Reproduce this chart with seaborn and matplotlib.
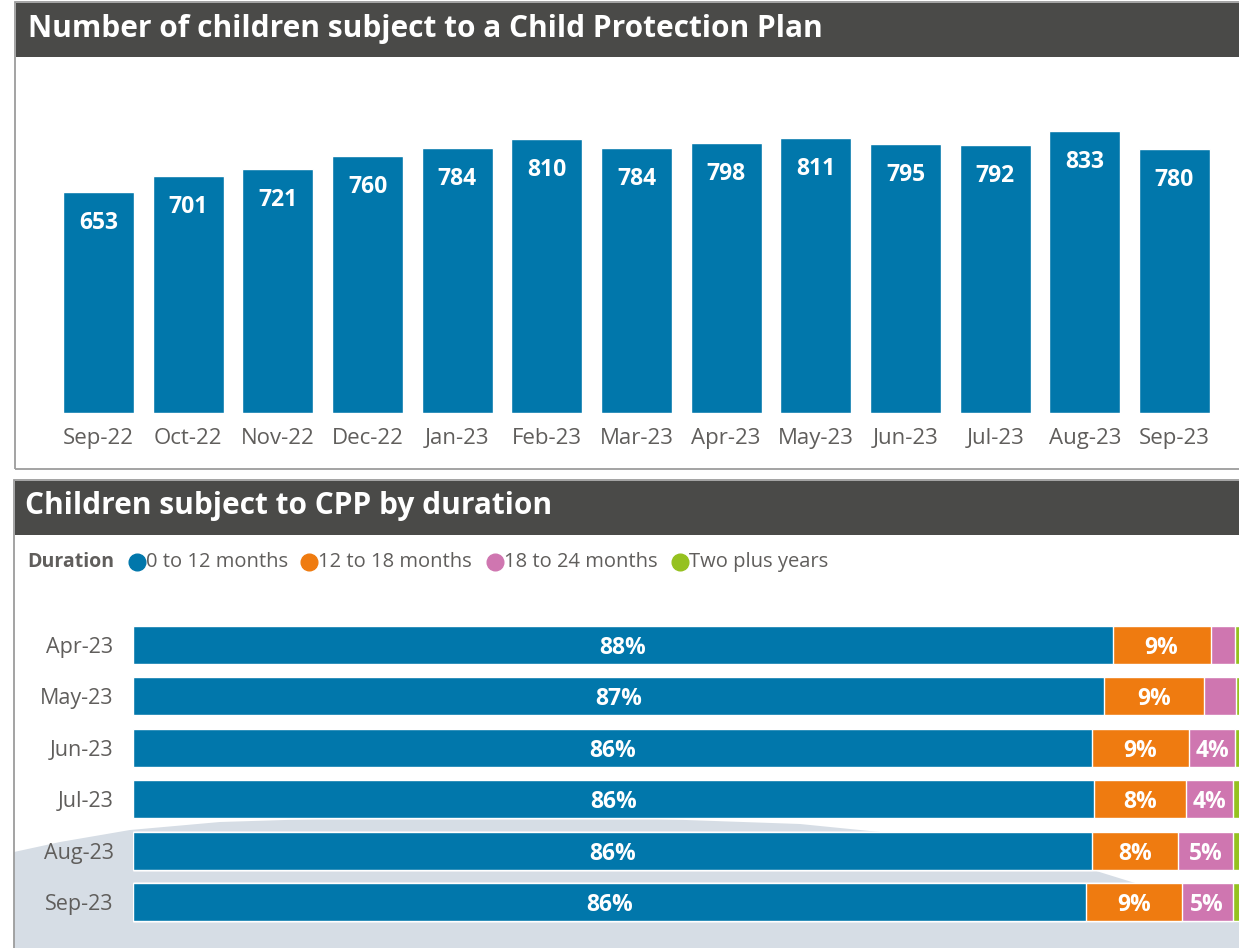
import matplotlib
matplotlib.use("Agg")
import matplotlib.pyplot as plt
import seaborn as sns
import numpy as np
import pandas as pd
from matplotlib.patches import Rectangle, Polygon
from matplotlib.lines import Line2D

# ---------------- data ----------------
months = ["Sep-22", "Oct-22", "Nov-22", "Dec-22", "Jan-23", "Feb-23", "Mar-23",
          "Apr-23", "May-23", "Jun-23", "Jul-23", "Aug-23", "Sep-23"]
children = [653, 701, 721, 760, 784, 810, 784, 798, 811, 795, 792, 833, 780]

duration_months = ["Apr-23", "May-23", "Jun-23", "Jul-23", "Aug-23", "Sep-23"]
dur_0_12 = [88.1, 87.3, 86.2, 86.4, 86.2, 85.7]
dur_12_18 = [8.8, 9.0, 8.8, 8.3, 7.8, 8.6]
dur_18_24 = [2.2, 2.9, 4.1, 4.2, 4.9, 4.6]
dur_2plus = [0.9, 0.8, 0.9, 1.1, 1.1, 1.1]
duration_labels = ["0 to 12 months", "12 to 18 months", "18 to 24 months", "Two plus years"]

title_top = "Number of children subject to a Child Protection Plan"
title_bottom = "Children subject to CPP by duration"
legend_title = "Duration"

colors = ["#0177AB", "#EF7B10", "#CF76B0", "#95C11F"]
band_color = "#4A4A48"
text_gray = "#605E5C"

# ---------------- setup ----------------
sns.set_theme(style="white")
plt.rcParams["font.family"] = ["Open Sans", "DejaVu Sans"]

W, H = 1239, 948
fig = plt.figure(figsize=(W / 100, H / 100), dpi=100)
fig.patch.set_facecolor("white")


def fx(px):
    return px / W


def fy(py):
    return 1 - py / H


# background decoration in lower panel
shape_px = [(14, 852), (60, 842), (130, 830), (220, 822), (350, 818), (600, 817),
            (800, 824), (900, 834), (1000, 851), (1093, 870), (1135, 883),
            (1239, 905), (1239, 948), (14, 948)]
fig.add_artist(Polygon([(fx(x), fy(y)) for x, y in shape_px], closed=True,
                       transform=fig.transFigure, facecolor="#D6DDE5",
                       edgecolor="none", zorder=0))

# panel frames
fig.add_artist(Rectangle((fx(15), fy(469)), fx(1260) - fx(15), (469 - 2) / H,
                         transform=fig.transFigure, fill=False,
                         edgecolor="#9C9C9C", lw=1.3, zorder=1))
fig.add_artist(Rectangle((fx(14), fy(960)), fx(1260) - fx(14), (960 - 480) / H,
                         transform=fig.transFigure, fill=False,
                         edgecolor="#9C9C9C", lw=1.3, zorder=1))

# title bands
fig.add_artist(Rectangle((fx(16), fy(57)), fx(1260) - fx(16), (57 - 3) / H,
                         transform=fig.transFigure, facecolor=band_color,
                         edgecolor="none", zorder=2))
fig.add_artist(Rectangle((fx(15), fy(535)), fx(1260) - fx(15), (535 - 481) / H,
                         transform=fig.transFigure, facecolor=band_color,
                         edgecolor="none", zorder=2))
fig.text(fx(28), fy(29), title_top, color="white", fontsize=21.5,
         fontweight="bold", va="center", ha="left", zorder=3)
fig.text(fx(25), fy(506), title_bottom, color="white", fontsize=21.5,
         fontweight="bold", va="center", ha="left", zorder=3)

# ---------------- top chart ----------------
ax1 = fig.add_axes([fx(53.7), fy(413), fx(1219.3) - fx(53.7), (413 - 74.5) / H])
ax1.set_facecolor("none")
df1 = pd.DataFrame({"month": months, "children": children})
sns.barplot(data=df1, x="month", y="children", color=colors[0], saturation=1,
            width=0.79, ax=ax1)
ax1.set_ylim(0, 1000)
ax1.set_xlim(-0.5, len(months) - 0.5)
for i, v in enumerate(children):
    ax1.annotate(f"{v}", (i, v), xytext=(0, -31), textcoords="offset pixels",
                 ha="center", va="center", color="white", fontsize=16.5,
                 fontweight="bold")
ax1.set_xlabel("")
ax1.set_ylabel("")
ax1.set_yticks([])
ax1.tick_params(axis="x", length=0, pad=11, labelsize=16, labelcolor=text_gray)
for s in ax1.spines.values():
    s.set_visible(False)

# ---------------- bottom chart ----------------
ax2 = fig.add_axes([fx(133), fy(927.7), (1245 - 133) / W, (927.7 - 619.3) / H])
ax2.set_facecolor("none")
segments = np.array([dur_0_12, dur_12_18, dur_18_24, dur_2plus])
cum = np.cumsum(segments, axis=0)
for k in reversed(range(len(duration_labels))):
    dfk = pd.DataFrame({"month": duration_months, "value": cum[k]})
    sns.barplot(data=dfk, x="value", y="month", orient="h", color=colors[k],
                saturation=1, width=0.74, ax=ax2)
ax2.set_xlim(0, 100)
ax2.set_ylim(len(duration_months) - 0.5, -0.5)
for k in range(len(duration_labels)):
    for i in range(len(duration_months)):
        v = segments[k][i]
        if v >= 3.5:
            ax2.annotate(f"{round(v):.0f}%", (cum[k][i] - v / 2, i),
                         xytext=(0, -3), textcoords="offset pixels",
                         ha="center", va="center", color="white",
                         fontsize=16.5, fontweight="bold")
ax2.set_xlabel("")
ax2.set_ylabel("")
ax2.set_xticks([])
ax2.tick_params(axis="y", length=0, pad=14, labelsize=15.5, labelcolor=text_gray)
for s in ax2.spines.values():
    s.set_visible(False)

# ---------------- legend ----------------
fig.text(fx(27), fy(562), legend_title, color=text_gray, fontsize=14,
         fontweight="bold", va="center", ha="left")
marker_x = [137, 309, 495, 680]
for k, lab in enumerate(duration_labels):
    fig.add_artist(Line2D([fx(marker_x[k])], [fy(562)], marker="o", markersize=12,
                          color=colors[k], linestyle="none",
                          transform=fig.transFigure))
    fig.text(fx(marker_x[k] + 9), fy(562), lab, color=text_gray, fontsize=14.5,
             va="center", ha="left")

fig.savefig("out.png", dpi=100)
